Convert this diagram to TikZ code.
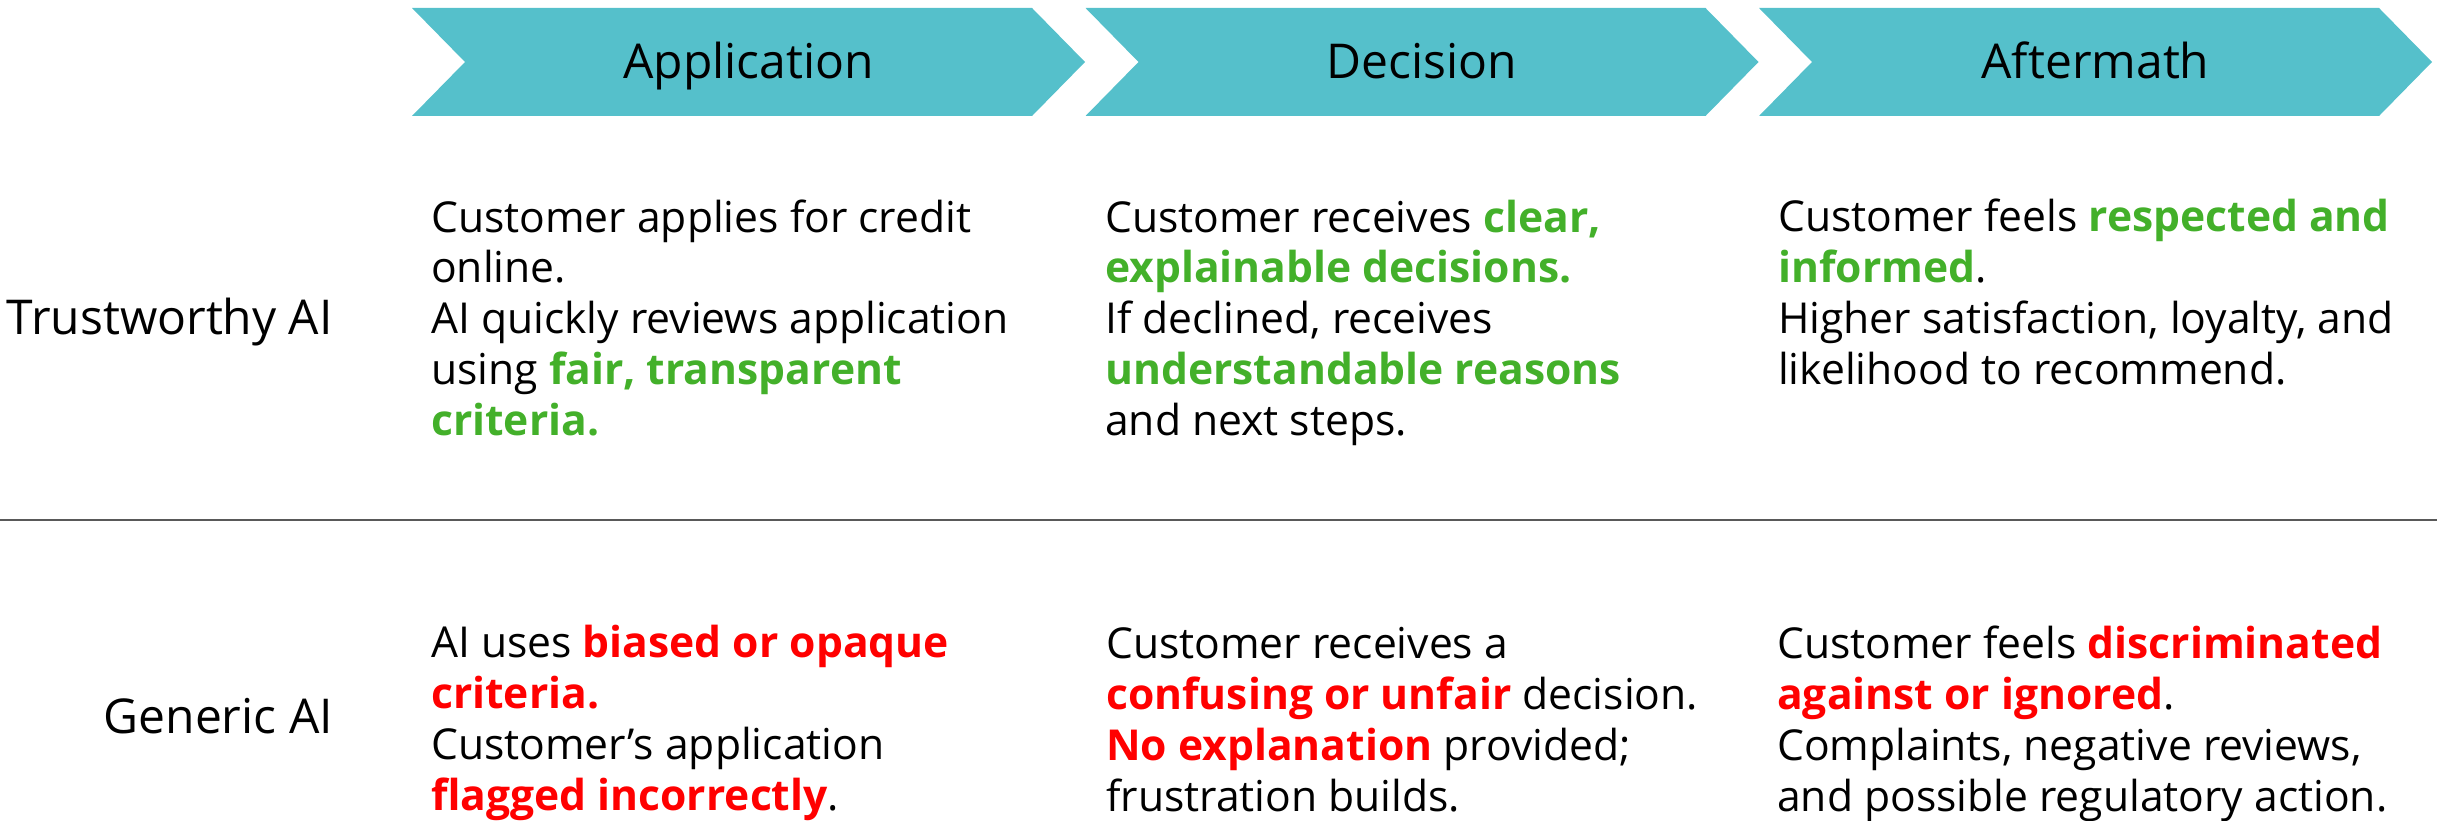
\documentclass[tikz,border=0pt]{standalone}
\usepackage{fontspec}
\setmainfont{Open Sans}

\definecolor{chevteal}{RGB}{85,192,203}
\definecolor{okgreen}{RGB}{67,176,42}
\definecolor{badred}{RGB}{255,0,0}
\definecolor{rulegray}{RGB}{89,89,89}

\newcommand{\goodtxt}[1]{\textcolor{okgreen}{\textbf{#1}}}
\newcommand{\badtxt}[1]{\textcolor{badred}{\textbf{#1}}}

\tikzset{
  chevron/.style={fill=chevteal, draw=none},
  headtxt/.style={font=\fontsize{48}{58}\selectfont, anchor=base, inner sep=0pt},
  rowlabel/.style={font=\fontsize{48}{58}\selectfont, anchor=base east, inner sep=0pt},
  % anchored at the baseline of the last line
  celltxt/.style={font=\fontsize{42.6}{50.7}\selectfont, align=left, anchor=base west, inner sep=0pt}
}

\begin{document}
\begin{tikzpicture}[x=1pt, y=-1pt]
      \useasboundingbox (0,0) rectangle (2437,821);

      % stage arrows
      \fill[chevron] (412,8) -- (1032,8) -- (1085,62) -- (1032,116) -- (412,116) -- (465,62) -- cycle;
      \fill[chevron] (1085.5,8) -- (1705.5,8) -- (1758.5,62) -- (1705.5,116) -- (1085.5,116) -- (1138.5,62) -- cycle;
      \fill[chevron] (1759,8) -- (2379,8) -- (2432,62) -- (2379,116) -- (1759,116) -- (1812,62) -- cycle;

      \node[headtxt](app) at (748.5,79){Application};
      \node[headtxt](dec) at (1422,79){Decision};
      \node[headtxt](aft) at (2095.5,79){Aftermath};

      % row labels
      \node[rowlabel](trust) at (333,334){Trustworthy AI};
      \node[rowlabel](generic) at (333,733){Generic AI};

      % trustworthy row
      \node[celltxt](trustapp) at (431,435){Customer applies for credit\\online.\\AI quickly reviews application\\using \goodtxt{fair, transparent}\\\goodtxt{criteria.}};
      \node[celltxt](trustdec) at (1105,435){Customer receives \goodtxt{clear,}\\\goodtxt{explainable decisions.}\\If declined, receives\\\goodtxt{understandable reasons}\\and next steps.};
      \node[celltxt](trustaft) at (1778,384){Customer feels \goodtxt{respected and}\\\goodtxt{informed}.\\Higher satisfaction, loyalty, and\\likelihood to recommend.};

      % divider
      \coordinate (ruleL) at (0,520);
      \coordinate (ruleR) at (2437,520);
      \draw[rulegray, line width=2pt] (ruleL) -- (ruleR);

      % generic row
      \node[celltxt](genapp) at (431,810){AI uses \badtxt{biased or opaque}\\\badtxt{criteria.}\\Customer’s application\\\badtxt{flagged incorrectly}.};
      \node[celltxt](gendec) at (1106,811){Customer receives a\\\badtxt{confusing or unfair} decision.\\\badtxt{No explanation} provided;\\frustration builds.};
      \node[celltxt](genaft) at (1777,811){Customer feels \badtxt{discriminated}\\\badtxt{against or ignored}.\\Complaints, negative reviews,\\and possible regulatory action.};
\end{tikzpicture}
\end{document}
